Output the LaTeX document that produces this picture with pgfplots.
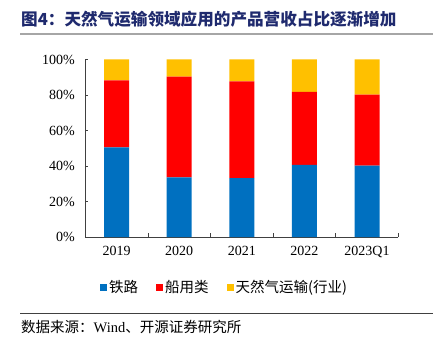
\documentclass[border=0pt]{standalone}
\usepackage{pgfplots}
\pgfplotsset{compat=1.18}
\usepackage{fontspec}
\setmainfont{Liberation Serif}
\newfontfamily\cjk{Noto Sans CJK SC}
\definecolor{titleblue}{HTML}{1F2A6E}
\definecolor{cblue}{HTML}{0070C0}
\definecolor{cred}{HTML}{FF0000}
\definecolor{cyellow}{HTML}{FFC000}
\definecolor{axgray}{HTML}{404040}
\begin{document}
\begin{tikzpicture}[x=1pt,y=1pt]
\path[use as bounding box] (0,0) rectangle (433,340);
\node[anchor=west,text=titleblue,font=\cjk\bfseries\fontsize{16.6}{18}\selectfont,inner sep=0pt] at (21,321) {图4：天然气运输领域应用的产品营收占比逐渐增加};
\draw[gray!70, line width=1.3pt] (20,306) -- (433,306);
\begin{axis}[
  at={(85.3pt,103pt)}, anchor=south west,
  scale only axis, width=313pt, height=177.5pt,
  ybar stacked, bar width=25pt,
  xmin=-0.5, xmax=4.5, ymin=0, ymax=100,
  axis x line*=bottom, axis y line*=left,
  axis line style={axgray, line width=0.8pt},
  xtick={0,1,2,3,4},
  xticklabels={2019,2020,2021,2022,2023Q1},
  major x tick style={draw=none},
  minor xtick={0.5,1.5,2.5,3.5,4.5},
  minor tick length=4.3pt,
  minor x tick style={axgray, line width=0.8pt},
  ytick={0,20,40,60,80,100},
  yticklabel={\pgfmathprintnumber{\tick}\%},
  /pgf/number format/assume math mode=true,
  major tick length=3pt,
  y tick style={axgray, line width=0.8pt},
  tick align=inside,
  ticklabel style={font=\fontsize{14}{16}\selectfont, text=black},
  yticklabel style={xshift=-7pt},
  xticklabel style={yshift=-6pt},
  legend style={at={(0.047,-0.282)}, anchor=west, draw=none, fill=none,
    inner sep=0pt, legend columns=-1,
    font=\cjk\fontsize{14.5}{16}\selectfont,
    /tikz/every even column/.append style={column sep=16pt}},
  legend image code/.code={\fill[#1] (0pt,-3.5pt) rectangle (7pt,3.5pt);},
]
\addplot[fill=cblue, draw=none] coordinates {(0,50.5) (1,33.6) (2,33.1) (3,40.7) (4,40.2)};
\addplot[fill=cred, draw=none] coordinates {(0,37.8) (1,56.7) (2,54.6) (3,41.0) (4,40.0)};
\addplot[fill=cyellow, draw=none] coordinates {(0,11.7) (1,9.7) (2,12.3) (3,18.3) (4,19.8)};
\legend{铁路,船用类,天然气运输(行业)}
\end{axis}
\draw[axgray, line width=1pt] (20,27) -- (433,27);
\node[anchor=west,inner sep=0pt,font=\fontsize{14.5}{16}\selectfont] at (21,13) {{\cjk 数据来源：}Wind{\cjk 、开源证券研究所}};
\end{tikzpicture}
\end{document}
